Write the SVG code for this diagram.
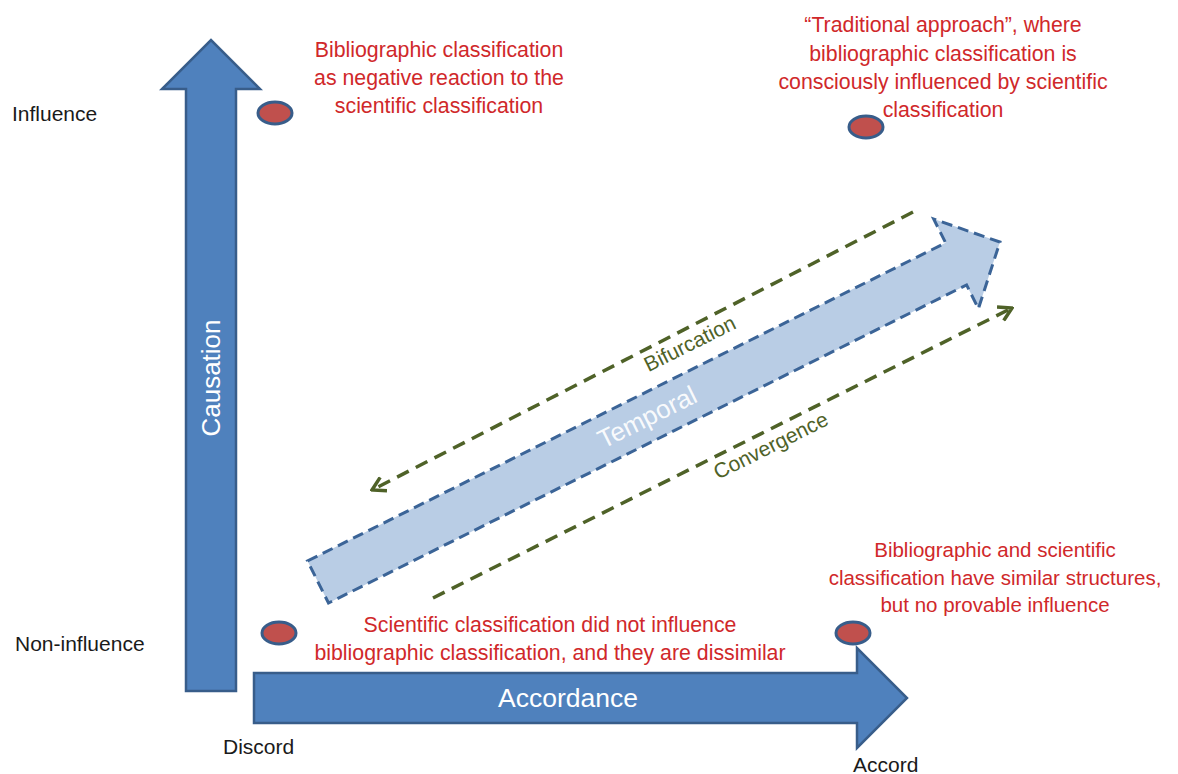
<svg xmlns="http://www.w3.org/2000/svg" width="1178" height="774" viewBox="0 0 1178 774">
<style>
.axis{fill:#4f81bd;stroke:#385d8a;stroke-width:2.5;stroke-linejoin:miter}
.temporal{fill:#b9cde5;stroke:#3b6497;stroke-width:3;stroke-dasharray:11 6;stroke-linejoin:miter}
.dot{fill:#c0504d;stroke:#385d8a;stroke-width:3}
.conn{fill:none;stroke:#4f6228;stroke-width:3.5;stroke-dasharray:13 8}
.red{font-family:"Liberation Sans",Arial,sans-serif;font-size:21.3px;fill:#d0282a;text-anchor:middle}
.red2{font-family:"Liberation Sans",Arial,sans-serif;font-size:20.5px;fill:#d0282a;text-anchor:middle}
.lbl{font-family:"Liberation Sans",Arial,sans-serif;font-size:21px;fill:#1a1a1a}
.white{font-family:"Liberation Sans",Arial,sans-serif;fill:#ffffff;text-anchor:middle}
.green{font-family:"Liberation Sans",Arial,sans-serif;font-size:21px;fill:#4f6228;text-anchor:middle}
</style>
<defs>
<marker id="chev" markerUnits="userSpaceOnUse" viewBox="0 0 16 18" markerWidth="16" markerHeight="18" refX="14" refY="9" orient="auto">
<path d="M1,1.5 L14,9 L1,16.5" fill="none" stroke="#4f6228" stroke-width="3.5"/>
</marker>
</defs>

<g id="causation-axis">
<path class="axis" d="M186,691 V89 H162 L211,40 L260,89 H236 V691 Z"/>
<text class="white" font-size="26" transform="translate(211,378) rotate(-90)" x="0" y="9">Causation</text>
</g>

<g id="accordance-axis">
<path class="axis" d="M254,673 H857 V648 L907,698 L857,748 V723 H254 Z"/>
<text class="white" font-size="26.5" x="568" y="707">Accordance</text>
</g>

<g id="temporal">
<path class="temporal" transform="translate(318,582) rotate(-26.5)" d="M0,-23.5 H713 V-50 L762,0 L713,50 V23.5 H0 Z"/>
<text class="white" font-size="26" fill-opacity="0.92" transform="translate(647,417) rotate(-26.5)" x="0" y="9">Temporal</text>
</g>

<g id="connectors">
<line class="conn" x1="913" y1="212" x2="372" y2="490" marker-end="url(#chev)"/>
<line class="conn" x1="433" y1="598" x2="1012" y2="308" marker-end="url(#chev)"/>
<text class="green" transform="translate(693,350) rotate(-26.5)">Bifurcation</text>
<text class="green" transform="translate(774,452) rotate(-26.5)">Convergence</text>
</g>

<g id="node-influence-discord">
<ellipse class="dot" cx="275" cy="113" rx="17" ry="11"/>
<text class="red" x="439" y="57">Bibliographic classification</text>
<text class="red" x="439" y="85">as negative reaction to the</text>
<text class="red" x="439" y="113">scientific classification</text>
</g>

<g id="node-influence-accord">
<ellipse class="dot" cx="866" cy="127" rx="17" ry="11"/>
<text class="red" x="943" y="32">“Traditional approach”, where</text>
<text class="red" x="943" y="61">bibliographic classification is</text>
<text class="red" x="943" y="89">consciously influenced by scientific</text>
<text class="red" x="943" y="117">classification</text>
</g>

<g id="node-noninfluence-discord">
<ellipse class="dot" cx="279" cy="633" rx="17" ry="11"/>
<text class="red" x="550" y="632">Scientific classification did not influence</text>
<text class="red" x="550" y="660">bibliographic classification, and they are dissimilar</text>
</g>

<g id="node-noninfluence-accord">
<ellipse class="dot" cx="853" cy="633" rx="17" ry="11"/>
<text class="red2" x="995" y="557">Bibliographic and scientific</text>
<text class="red2" x="995" y="585">classification have similar structures,</text>
<text class="red2" x="995" y="612">but no provable influence</text>
</g>

<g id="axis-labels">
<text class="lbl" x="12" y="121">Influence</text>
<text class="lbl" x="15" y="651">Non-influence</text>
<text class="lbl" x="223" y="754">Discord</text>
<text class="lbl" x="853" y="772">Accord</text>
</g>
</svg>
